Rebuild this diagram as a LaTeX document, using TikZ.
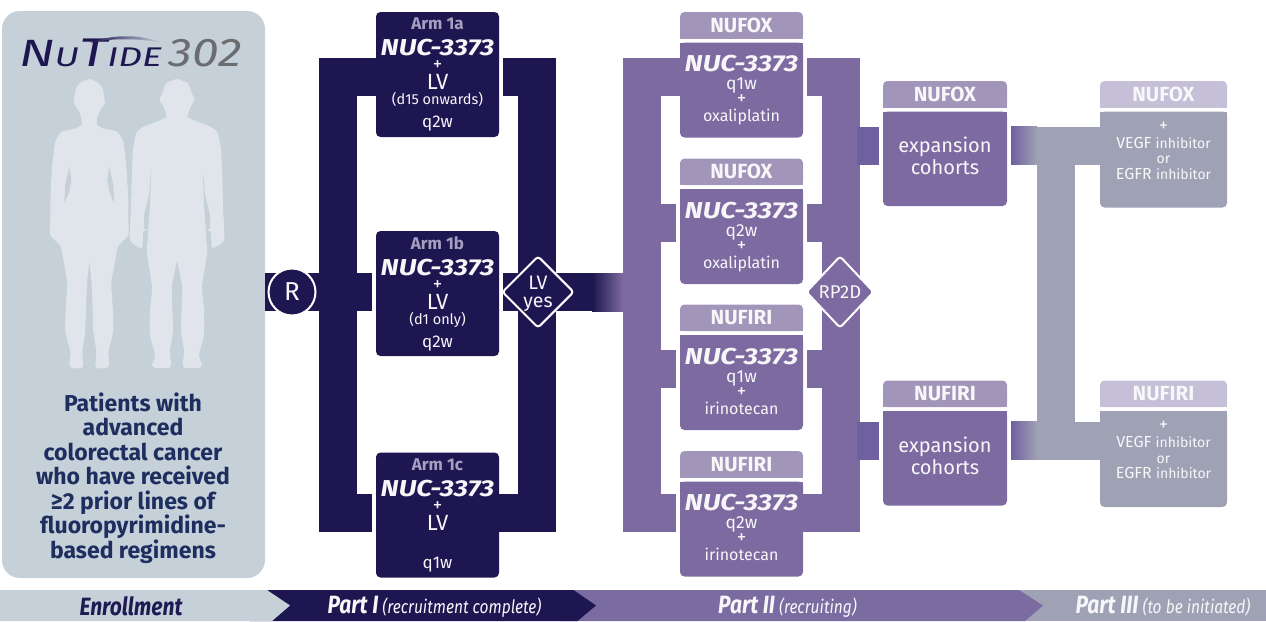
\documentclass[tikz,border=0pt]{standalone}
\usepackage{fontspec}
\setmainfont{Fira Sans}
\newfontfamily\bandfont[FakeStretch=0.84]{Fira Sans}
\newfontfamily\logofont[FakeStretch=1.38]{Fira Sans}
\newfontfamily\numfont[FakeStretch=1.2]{Fira Sans}
\newfontfamily\nucfont[FakeStretch=1.2]{Fira Sans}
\usetikzlibrary{positioning,shapes.geometric,calc}
\definecolor{navyNT}{HTML}{1E1650}
\definecolor{purpleNT}{HTML}{7D6AA0}
\definecolor{stubNT}{HTML}{6F609F}
\definecolor{bandNT}{HTML}{7A6CA1}
\definecolor{headNT}{HTML}{A295BA}
\definecolor{grayNT}{HTML}{9FA1B5}
\definecolor{paleNT}{HTML}{C6BFD8}
\definecolor{panelNT}{HTML}{C5D0D9}
\definecolor{bodyNT}{HTML}{DFE5EA}
\definecolor{inkNT}{HTML}{1D2E5F}
\definecolor{armNT}{HTML}{A5A0C0}
\definecolor{logoNT}{HTML}{6A6C70}
\colorlet{textNT}{white!94!purpleNT}
% baselines are set by hand with \\[..]
\newcommand{\fs}[1]{\fontsize{#1}{0}\selectfont\lineskiplimit=-100pt\relax}
\newcommand{\nuc}{{\nucfont\fs{23}\bfseries\itshape NUC-3373}}
% header tab and body of one cohort box
\newcommand{\tabbed}[9]{%
  \fill[#6] (#2-#4/2,#3+13) rectangle (#2+#4/2,#3+26.5);
  \fill[#7] (#2-#4/2,#3+30.5) rectangle (#2+#4/2,#3+60);
  \node[tabcell,fill=#6,minimum width=#4pt,minimum height=26.5pt] (#1head) at (#2,#3+13.25) {\fs{20.5}\bfseries #8};
  \node[tabcell,fill=#7,minimum width=#4pt,minimum height=#5pt] (#1) at (#2,#3+30.5+#5/2) {#9};
}
\tikzset{
  tabcell/.style={rectangle,rounded corners=4.5pt,inner sep=0pt,text=textNT,align=center,font=\fs{16}},
  armbox/.style={rectangle,rounded corners=4.5pt,inner sep=0pt,fill=navyNT,text=textNT,align=center,
    minimum width=123pt,minimum height=125pt,font=\fs{17}},
  bar/.style={line width=38pt,line join=miter},
  navybar/.style={bar,navyNT},
  purplebar/.style={bar,purpleNT},
  graybar/.style={bar,grayNT},
  fadebox/.style={rectangle,inner sep=0pt,minimum height=38pt},
  gate/.style={diamond,aspect=1,draw=white,line width=2pt,rounded corners=3pt,inner sep=0pt,
    minimum width=72pt,minimum height=72pt,text=textNT,align=center,font=\fs{19.5}},
  bandtext/.style={inner sep=0pt,text=textNT,font=\bandfont\fs{18.5}\itshape}
}
\begin{document}
\begin{tikzpicture}[x=1pt,y=-1pt]
  \useasboundingbox (0,0) rectangle (1266,621);

  % enrollment panel
  \node[rectangle,rounded corners=18pt,fill=panelNT,inner sep=0pt,minimum width=263pt,minimum height=567pt] (panel) at (133.5,294.5) {};
  \node[inner sep=0pt,text=navyNT] (logo) at (90.5,53) {\logofont\itshape\fs{38}N\fs{27}U\fs{40}T\fs{27}IDE};
  \node[inner sep=0pt,text=logoNT] (logonum) at (205,53) {\numfont\itshape\fs{40}302};
  \shade[left color=navyNT,right color=panelNT] (90,43) .. controls (108,35) and (140,33) .. (162,43) .. controls (140,38) and (110,38) .. (90,43) -- cycle;

  % silhouettes
  \foreach \s in {1,-1}{
    \fill[bodyNT,shift={(89.3,0)},xscale=\s] plot[smooth,tension=.4] coordinates {(-0.5,78.7) (8,82) (12.5,87) (14,92) (15.5,103) (11,110) (8,118) (8,125) (16,129) (27.7,131.7) (34,141.7) (36,156.7) (37,165) (38,180) (39,200) (39,220) (39,235) (29,246) (26,260) (22,283) (23,300) (24,330) (19,352) (20,364) (17,368) (8,368) (6,364) (7,352) (4,330) (3,300) (2,280) (-0.5,257)} -- cycle;
    \fill[panelNT,shift={(89.3,0)},xscale=\s] (20,167) -- (24,185) -- (25,203) -- (20,192) -- (18,180) -- cycle;
    \fill[bodyNT,shift={(177,0)},xscale=\s] plot[smooth,tension=.35] coordinates {(-0.5,78.7) (10.7,83) (14.7,93) (17.3,100) (13,108) (10.7,117) (20.7,121.7) (34,127) (40.7,133) (44,150) (45.3,177) (46,207) (47,240) (35,248) (34,232) (29,232) (30,253) (25,287) (27,310) (27,335) (22,355) (25,365) (22,368) (8,368) (6,364) (7,350) (4,330) (5,287) (-0.5,258)} -- cycle;
    \fill[panelNT,shift={(177,0)},xscale=\s] (25.7,170) -- (28,195) -- (33,215) -- (33,228) -- (29,232) -- (27,205) -- cycle;
  }
  \node[inner sep=0pt,text=inkNT,align=center,font=\fs{23}\bfseries] (patients) at (133,478) {Patients with\\[24.5pt]advanced\\[24.5pt]colorectal cancer\\[24.5pt]who have received\\[24.5pt]≥2 prior lines of\\[24.5pt]fluoropyrimidine-\\[24.5pt]based regimens};

  % Part I
  \node[armbox] (arm1a) at (437.5,74.5) {{\bfseries\color{armNT}Arm 1a}\\[26pt]\nuc\\[15pt]{\fs{19}+}\\[19pt]{\fs{22}LV}\\[15pt]{\fs{14.5}(d15 onwards)}\\[23pt]q2w};
  \node[armbox] (arm1b) at (437.5,293.5) {{\bfseries\color{armNT}Arm 1b}\\[26pt]\nuc\\[15pt]{\fs{19}+}\\[19pt]{\fs{22}LV}\\[15pt]{\fs{14.5}(d1 only)}\\[23pt]q2w};
  \node[armbox] (arm1c) at (437.5,515) {{\bfseries\color{armNT}Arm 1c}\\[26pt]\nuc\\[15pt]{\fs{19}+}\\[19pt]{\fs{22}LV}\\[15pt]{}\\[23pt]q1w};

  \coordinate (split) at (338,292);
  \coordinate (splittop) at (338,77);
  \coordinate (splitbot) at (338,513);
  \coordinate (merge) at (537,292);
  \coordinate (mergetop) at (537,77);
  \coordinate (mergebot) at (537,513);

  \draw[navybar,shorten >=4pt] (arm1a.west |- splittop) -- (splittop) -- (splitbot) -- (arm1c.west |- splitbot);
  \draw[navybar,shorten >=4pt] (panel.east |- split) -- (arm1b.west |- split);
  \draw[navybar,shorten <=4pt] (arm1a.east |- mergetop) -- (mergetop) -- (mergebot) -- (arm1c.east |- mergebot);
  \node[fadebox,minimum width=31pt,left color=navyNT,right color=purpleNT] (fadeA) at (607.5,292) {};
  \draw[navybar,shorten <=4pt] (arm1b.east |- merge) -- (fadeA.west);
  \node[circle,draw=white,line width=2pt,fill=navyNT,inner sep=0pt,minimum size=47pt,text=textNT,font=\fs{26}] (rand) at (292,292) {R};
  \node[gate,fill=navyNT,xshift=1pt] (lvyes) at (merge) {{}\\[17pt]LV\\[18pt]yes};

  % Part II
  \foreach \nm/\top/\head/\dose/\drug in {nfa/12/NUFOX/q1w/oxaliplatin,nfb/158.5/NUFOX/q2w/oxaliplatin,nia/304.5/NUFIRI/q1w/irinotecan,nib/451/NUFIRI/q2w/irinotecan}{
    \tabbed{\nm}{741.5}{\top}{123}{95}{headNT}{purpleNT}{\head}{\nuc\\[18pt]{\fs{17.5}\dose}\\[15pt]{\fs{19}+}\\[17pt]\drug\\[3pt]{}}
  }
  \coordinate (fanin) at (642,292);
  \coordinate (fanintop) at (642,77);
  \coordinate (faninbot) at (642,513);
  \coordinate (fanout) at (841,292);
  \coordinate (fanouttop) at (841,77);
  \coordinate (fanoutbot) at (841,513);
  \draw[purplebar] (fadeA.east) -- (fanin);
  \draw[purplebar,shorten >=4pt] (nfa.west |- fanintop) -- (fanintop) -- (faninbot) -- (nib.west |- faninbot);
  \draw[purplebar,shorten <=4pt] (nfa.east |- fanouttop) -- (fanouttop) -- (fanoutbot) -- (nib.east |- fanoutbot);
  \foreach \nm/\y in {nfb/223,nia/369}{
    \coordinate (tapL) at (642,\y);
    \coordinate (tapR) at (841,\y);
    \draw[purplebar,shorten >=4pt] (tapL) -- (\nm.west |- tapL);
    \draw[purplebar,shorten <=4pt] (\nm.east |- tapR) -- (tapR);
  }
  \node[gate,fill=purpleNT,minimum width=68pt,font=\fs{18.5}] (rptwod) at (840,292) {RP2D};

  % expansion
  \foreach \nm/\top in {exa/81,exb/380.5}{
    \tabbed{\nm}{945}{\top}{124}{94.5}{headNT}{purpleNT}{\ifdim\top pt=81pt NUFOX\else NUFIRI\fi}{{\fs{20}expansion}\\[22pt]{\fs{20}cohorts}\\[6pt]{}}
  }
  \coordinate (stubA) at (857,145.5);
  \coordinate (stubB) at (857,440.5);
  \draw[bar,stubNT,shorten >=4pt] (stubA) -- (exa.west |- stubA);
  \draw[bar,stubNT,shorten >=4pt] (stubB) -- (exb.west |- stubB);

  % Part III
  \foreach \nm/\top in {vga/81,vgb/380.5}{
    \tabbed{\nm}{1163.5}{\top}{127}{96}{paleNT}{grayNT}{\ifdim\top pt=81pt NUFOX\else NUFIRI\fi}{{\fs{18}+}\\[17pt]{\fs{16}VEGF} {\fs{14}inhibitor}\\[15.5pt]{\fs{14}or}\\[15.5pt]{\fs{16}EGFR} {\fs{14}inhibitor}\\[18pt]{}}
  }
  \node[fadebox,minimum width=26pt,left color=stubNT,right color=grayNT] (fadeC) at (1024,145.5) {};
  \node[fadebox,minimum width=26pt,left color=stubNT,right color=grayNT] (fadeD) at (1024,440.5) {};
  \coordinate (joinT) at (1056,145.5);
  \coordinate (joinB) at (1056,440.5);
  \draw[graybar] (fadeC.east) -- (joinT) -- (joinB) -- (fadeD.east);
  \draw[graybar] (joinT) -- (vga.west |- joinT);
  \draw[graybar] (joinB) -- (vgb.west |- joinB);

  % phase band
  \fill[grayNT] (1000,590) rectangle (1266,621);
  \fill[bandNT] (560,590) -- (1019,590) -- (1043,605.5) -- (1025,621) -- (560,621) -- cycle;
  \fill[navyNT] (250,590) -- (573.5,590) -- (596,605.5) -- (577.5,621) -- (250,621) -- cycle;
  \fill[panelNT] (0,590) -- (267,590) -- (290,605.5) -- (272,621) -- (0,621) -- cycle;
  \node[bandtext,text=navyNT!80!inkNT] (enroll) at (131,606.5) {\fs{25}\bfseries Enrollment};
  \node[bandtext] (part1) at (434.5,606.5) {{\fs{25}\bfseries Part I} (recruitment complete)};
  \node[bandtext] (part2) at (787.5,606.5) {{\fs{25}\bfseries Part II} (recruiting)};
  \node[bandtext] (part3) at (1163,606.5) {{\fs{25}\bfseries Part III} (to be initiated)};
\end{tikzpicture}
\end{document}
